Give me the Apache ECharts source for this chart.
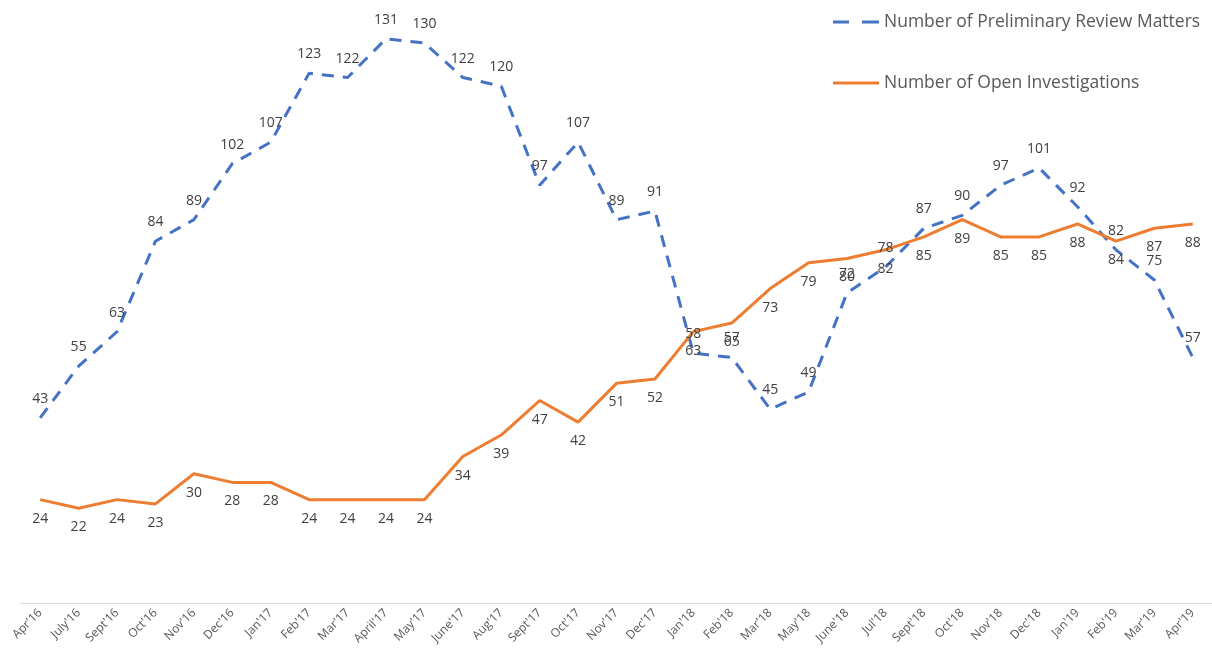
<!DOCTYPE html>
<html>
<head>
<meta charset="utf-8">
<script src="https://cdn.jsdelivr.net/npm/echarts@6/dist/echarts.min.js"></script>
<style>
  html, body { margin: 0; padding: 0; background: #fff; }
  #chart { width: 1212px; height: 662px; }
</style>
</head>
<body>
<div id="chart"></div>
<script>
var months = ["Apr'16", "July'16", "Sept'16", "Oct'16", "Nov'16", "Dec'16", "Jan'17", "Feb'17", "Mar'17", "April'17", "May'17",
  "June'17", "Aug'17", "Sept'17", "Oct'17", "Nov'17", "Dec'17", "Jan'18", "Feb'18", "Mar'18", "May'18",
  "June'18", "Jul'18", "Sept'18", "Oct'18", "Nov'18", "Dec'18", "Jan'19", "Feb'19", "Mar'19", "Apr'19"];
var reviewMatters = [43, 55, 63, 84, 89, 102, 107, 123, 122, 131, 130,
  122, 120, 97, 107, 89, 91, 58, 57, 45, 49,
  72, 78, 87, 90, 97, 101, 92, 82, 75, 57];
var openInvestigations = [24, 22, 24, 23, 30, 28, 28, 24, 24, 24, 24,
  34, 39, 47, 42, 51, 52, 63, 65, 73, 79,
  80, 82, 85, 89, 85, 85, 88, 84, 87, 88];

var font = "'Open Sans', 'Liberation Sans', sans-serif";
var chart = echarts.init(document.getElementById("chart"));
chart.setOption({
  animation: false,
  textStyle: { fontFamily: font },
  legend: {
    orient: "vertical",
    left: 828,
    top: 8,
    itemGap: 43,
    itemWidth: 46,
    itemHeight: 3,
    textStyle: { color: "#595959", fontSize: 17.5, fontFamily: font },
    data: [
      { name: "Number of Preliminary Review Matters", icon: "path://M0,0h16v3h-16z M29,0h17v3h-17z", itemStyle: { color: "#4472C4", opacity: 1 } },
      { name: "Number of Open Investigations", icon: "path://M0,0h46v3h-46z", itemStyle: { color: "#ED7D31", opacity: 1 } }
    ]
  },
  grid: { left: 21, width: 1197, top: 0, bottom: 59 },
  xAxis: {
    type: "category",
    data: months,
    boundaryGap: true,
    axisLine: { lineStyle: { color: "#d9d9d9", width: 1 } },
    axisTick: { show: false },
    axisLabel: { rotate: 45, color: "#595959", fontSize: 12, interval: 0, margin: 8, fontFamily: font }
  },
  yAxis: {
    type: "value",
    min: 0,
    max: 140,
    show: false,
    splitLine: { show: false }
  },
  series: [
    {
      name: "Number of Preliminary Review Matters",
      type: "line",
      data: reviewMatters,
      symbol: "circle",
      symbolSize: 0,
      showAllSymbol: true,
      lineStyle: { color: "#4472C4", width: 3, type: [12, 9] },
      itemStyle: { color: "#4472C4" },
      label: { show: true, position: "top", distance: 12, color: "#404040", fontSize: 14, fontFamily: font }
    },
    {
      name: "Number of Open Investigations",
      type: "line",
      data: openInvestigations,
      symbol: "circle",
      symbolSize: 0,
      showAllSymbol: true,
      lineStyle: { color: "#ED7D31", width: 3 },
      itemStyle: { color: "#ED7D31" },
      label: { show: true, position: "bottom", distance: 12, color: "#404040", fontSize: 14, fontFamily: font }
    }
  ]
});
</script>
</body>
</html>
